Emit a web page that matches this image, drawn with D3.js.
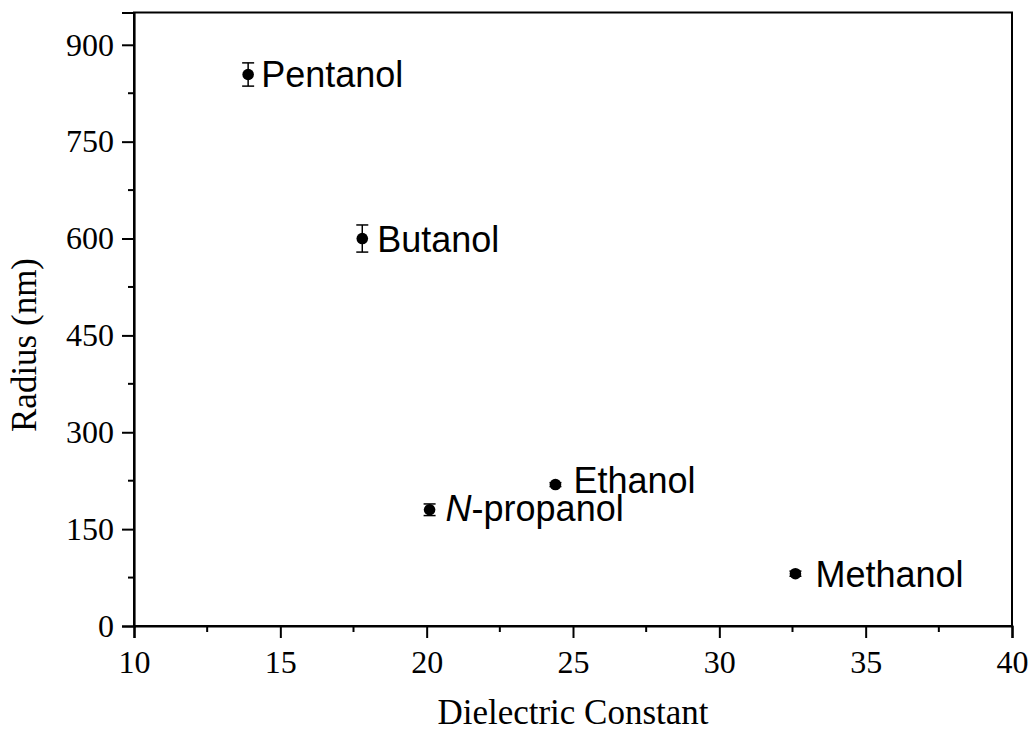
<!DOCTYPE html>
<html>
<head>
<meta charset="utf-8">
<script src="https://cdn.jsdelivr.net/npm/d3@7"></script>
<style>
  html, body { margin: 0; padding: 0; background: #fff; }
  svg { display: block; }
</style>
</head>
<body>
<svg id="chart" width="1031" height="734"></svg>
<script>
// Solvents, their dielectric constants and measured particle radii
const solvents   = ["Pentanol", "Butanol", "N-propanol", "Ethanol", "Methanol"];
const dielectric = [13.9, 17.8, 20.1, 24.4, 32.6];
const radius     = [854, 600, 180, 219, 81];
const radiusErr  = [18, 21, 9, 3, 4];

const xTicks = [10, 15, 20, 25, 30, 35, 40];
const yTicks = [0, 150, 300, 450, 600, 750, 900];

// label offsets from each marker (px)
const labelDx = [13, 15, 16, 18, 20];
const labelDy = [13, 13, 11, 8, 13];

const W = 1031, H = 734;
const margin = { left: 134, right: 19, top: 12.5, bottom: 108 };
const svg = d3.select("#chart");

const x = d3.scaleLinear().domain([10, 40]).range([margin.left, W - margin.right]);
const y = d3.scaleLinear().domain([0, 950]).range([H - margin.bottom, margin.top]);

const serif = "'Liberation Serif', 'Times New Roman', serif";
const sans = "'Liberation Sans', Arial, sans-serif";

// frame
svg.append("rect")
  .attr("x", x(10)).attr("y", y(950))
  .attr("width", x(40) - x(10)).attr("height", y(0) - y(950))
  .attr("fill", "none").attr("stroke", "#000").attr("stroke-width", 2);

// bottom axis: major and minor ticks
const xMinor = d3.range(12.5, 40, 5);
const gx = svg.append("g").attr("transform", `translate(0,${y(0)})`);
gx.call(d3.axisBottom(x).tickValues(xTicks).tickSize(12).tickPadding(12).tickFormat(d3.format("d")));
gx.selectAll(".tick line").attr("stroke-width", 2);
gx.select(".domain").attr("stroke-width", 2.2);
gx.selectAll("text").attr("font-family", serif).attr("font-size", 32).attr("fill", "#000");
gx.selectAll(".minor").data(xMinor).join("line")
  .attr("class", "minor")
  .attr("x1", d => x(d)).attr("x2", d => x(d))
  .attr("y1", 0).attr("y2", 6)
  .attr("stroke", "#000").attr("stroke-width", 2);

// left axis: major and minor ticks
const yMinor = d3.range(75, 950, 150);
const gy = svg.append("g").attr("transform", `translate(${x(10)},0)`);
gy.call(d3.axisLeft(y).tickValues(yTicks).tickSize(12).tickPadding(8).tickFormat(d3.format("d")));
gy.selectAll(".tick line").attr("stroke-width", 2);
gy.select(".domain").attr("stroke-width", 2.2);
gy.selectAll("text").attr("font-family", serif).attr("font-size", 32).attr("fill", "#000");
gy.selectAll(".minor").data(yMinor).join("line")
  .attr("class", "minor")
  .attr("x1", 0).attr("x2", -6)
  .attr("y1", d => y(d)).attr("y2", d => y(d))
  .attr("stroke", "#000").attr("stroke-width", 2);

// axis titles
svg.append("text")
  .attr("x", (x(10) + x(40)) / 2).attr("y", 724)
  .attr("text-anchor", "middle")
  .attr("font-family", serif).attr("font-size", 35)
  .text("Dielectric Constant");

svg.append("text")
  .attr("transform", "translate(36,345) rotate(-90)")
  .attr("text-anchor", "middle")
  .attr("font-family", serif).attr("font-size", 35)
  .text("Radius (nm)");

const pts = solvents.map((name, i) => ({
  name, x: dielectric[i], y: radius[i], e: radiusErr[i],
  dx: labelDx[i], dy: labelDy[i]
}));

// error bars
const eb = svg.append("g").attr("stroke", "#000").attr("stroke-width", 1.5);
pts.forEach(p => {
  const cx = x(p.x), y1 = y(p.y - p.e), y2 = y(p.y + p.e);
  eb.append("line").attr("x1", cx).attr("x2", cx).attr("y1", y1).attr("y2", y2);
  eb.append("line").attr("x1", cx - 6).attr("x2", cx + 6).attr("y1", y1).attr("y2", y1);
  eb.append("line").attr("x1", cx - 6).attr("x2", cx + 6).attr("y1", y2).attr("y2", y2);
});

// markers
svg.append("g").selectAll("circle").data(pts).join("circle")
  .attr("cx", d => x(d.x)).attr("cy", d => y(d.y)).attr("r", 5.8)
  .attr("fill", "#000");

// point labels
const labels = svg.append("g").attr("font-family", sans).attr("font-size", 36).attr("fill", "#000");
pts.forEach(p => {
  const t = labels.append("text")
    .attr("x", x(p.x) + p.dx).attr("y", y(p.y) + p.dy);
  if (p.name.startsWith("N-")) {
    t.append("tspan").attr("font-style", "italic").text("N");
    t.append("tspan").text(p.name.slice(1));
  } else {
    t.text(p.name);
  }
});
</script>
</body>
</html>
